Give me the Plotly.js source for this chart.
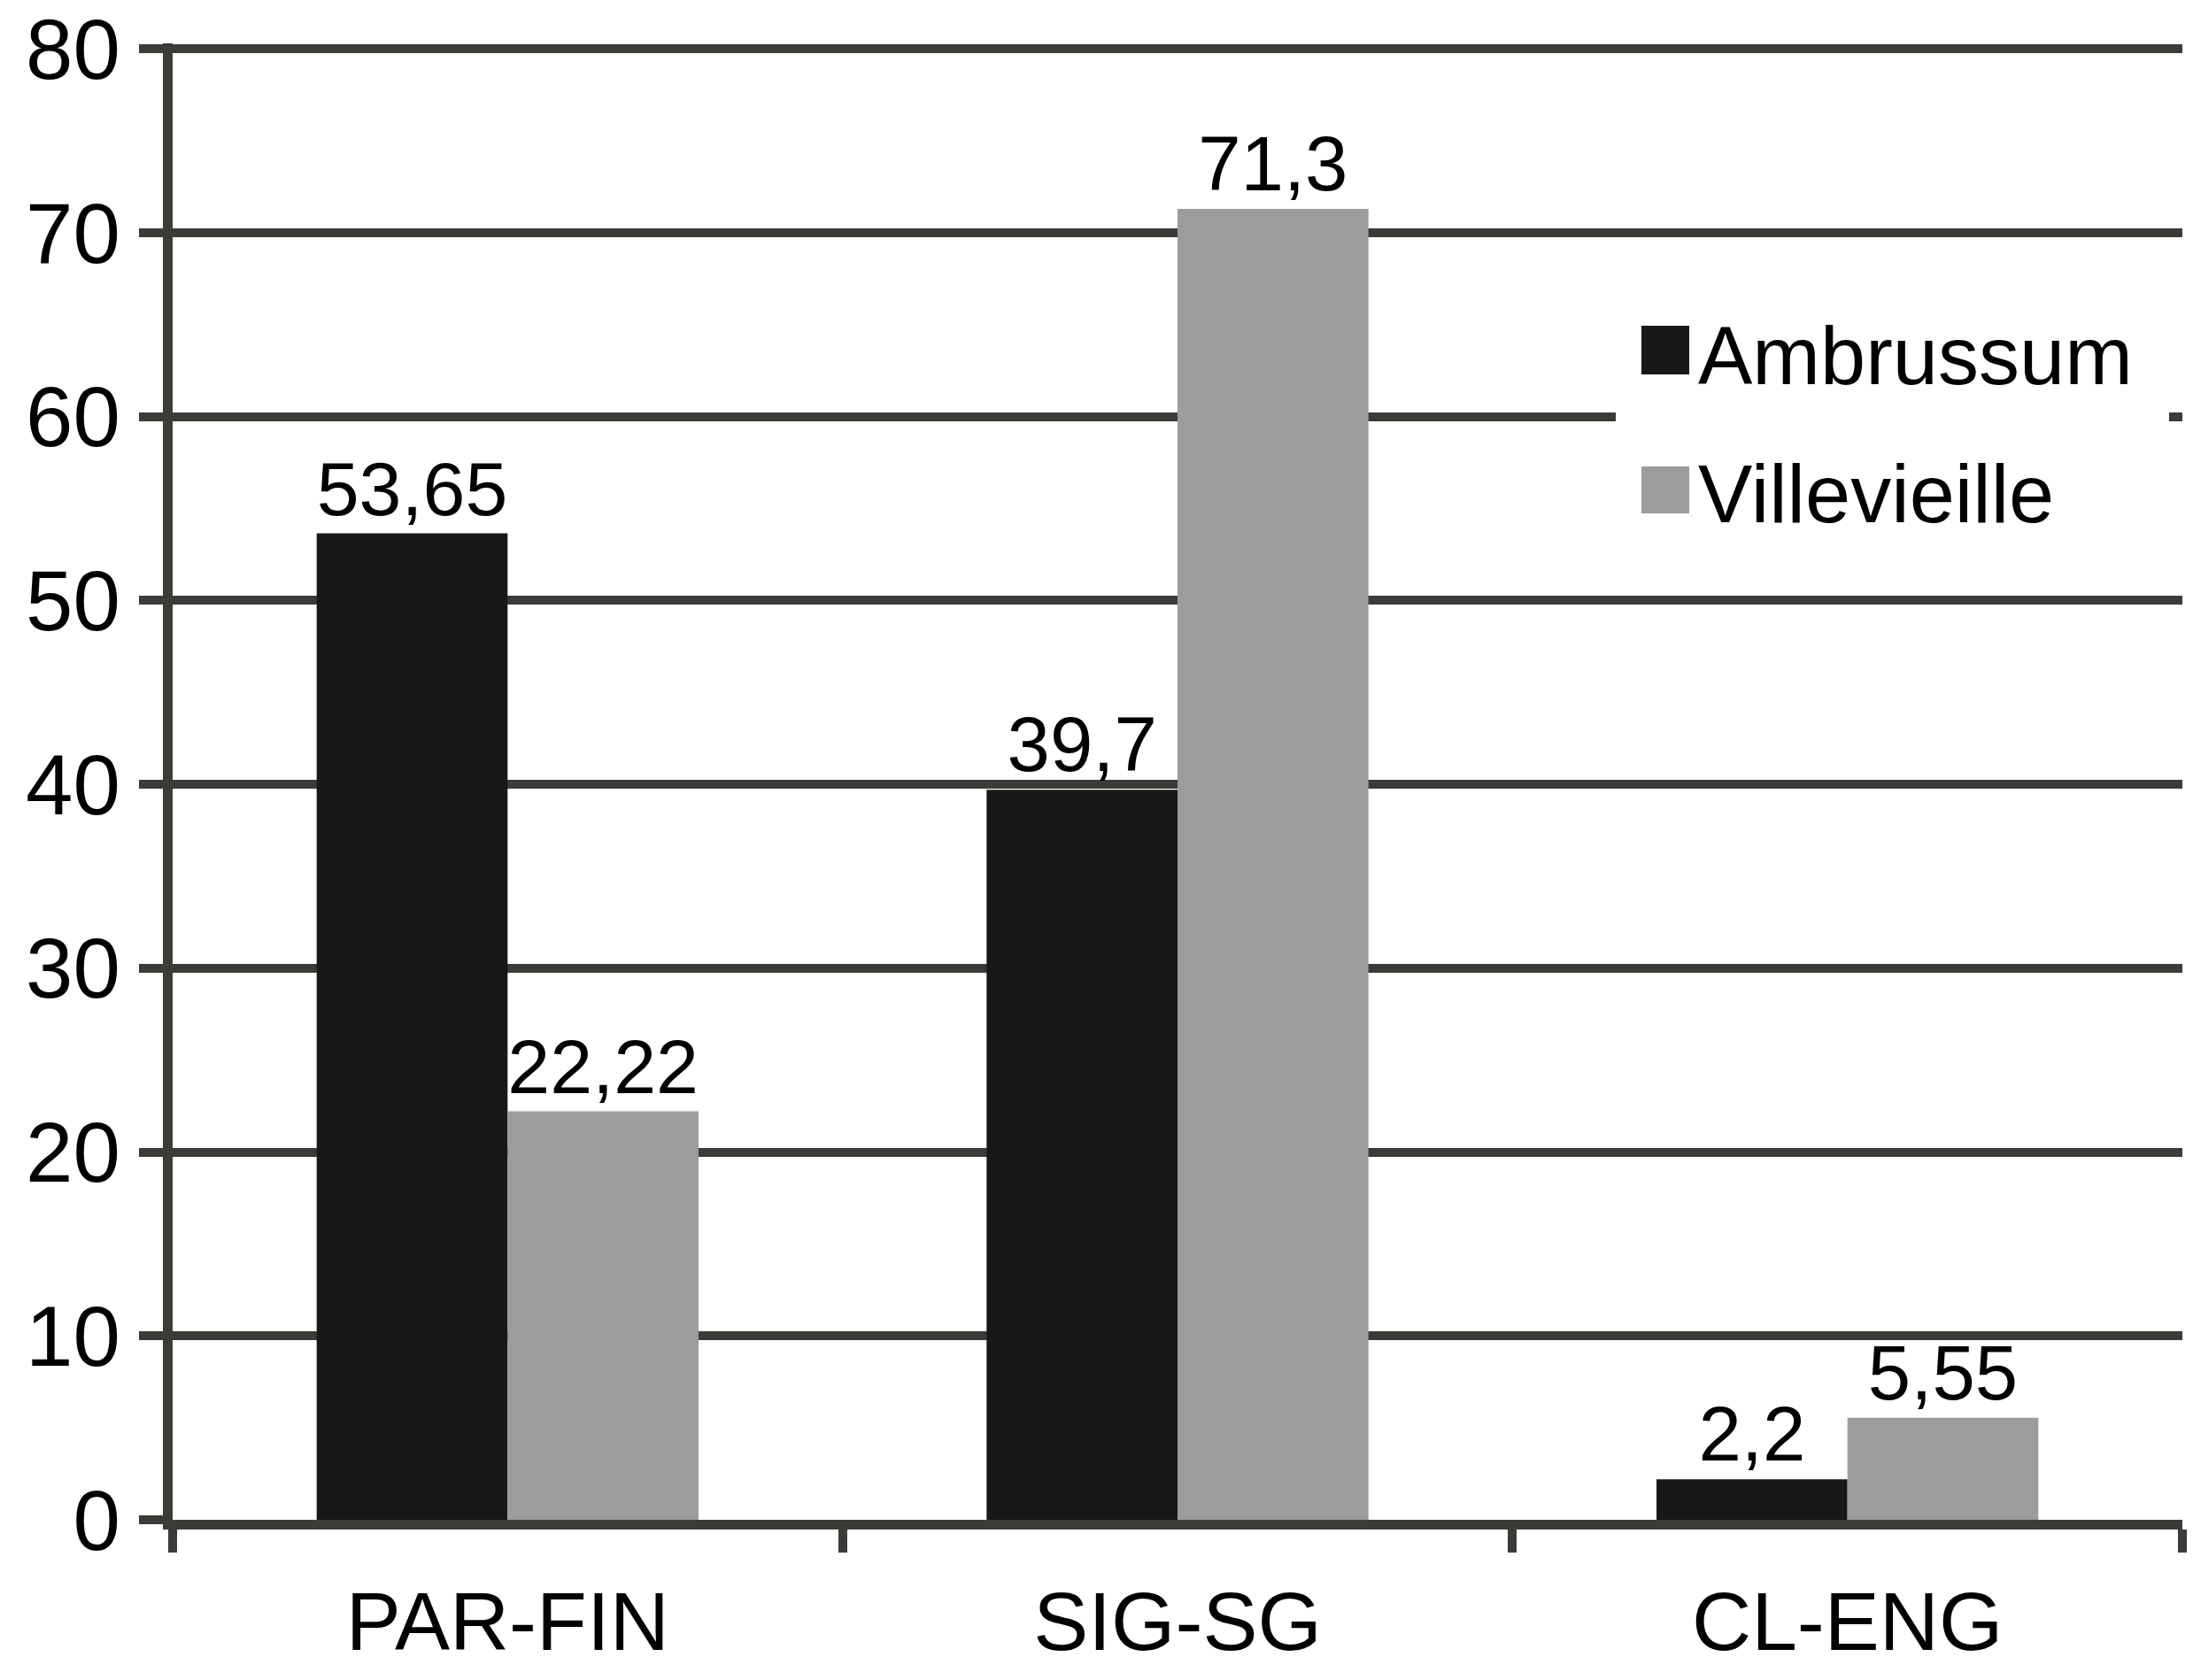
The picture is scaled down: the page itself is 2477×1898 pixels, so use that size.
<!DOCTYPE html>
<html>
<head>
<meta charset="utf-8">
<script src="https://cdn.plot.ly/plotly-3.0.1.min.js"></script>
<style>html,body{margin:0;padding:0;background:#fff;}#chart{width:2477px;height:1898px;}</style>
</head>
<body>
<div id="chart"></div>
<script>
const categories = ['PAR-FIN', 'SIG-SG', 'CL-ENG'];
const seriesNames = ['Ambrussum', 'Villevieille'];
const ambrussum = [53.65, 39.7, 2.2];
const villevieille = [22.22, 71.3, 5.55];
const yTicks = [0, 10, 20, 30, 40, 50, 60, 70, 80];

const FONT = 'Liberation Sans, Arial, sans-serif';
const colors = ['#171916', '#9c9c9c'];
const lineColor = '#3b3b37';
const fmt = v => String(v).replace('.', ',');

const W = 2477, H = 1898;
const margin = {l: 195, r: 12, t: 49, b: 181};
const pw = W - margin.l - margin.r, ph = H - margin.t - margin.b;
const px = x => (x - margin.l) / pw;
const py = y => (H - margin.b - y) / ph;

const traces = [ambrussum, villevieille].map((vals, i) => ({
  type: 'bar',
  name: seriesNames[i],
  x: categories,
  y: vals,
  text: vals.map(fmt),
  textposition: 'outside',
  cliponaxis: false,
  textfont: {family: FONT, size: 87, color: '#000'},
  marker: {color: colors[i], line: {width: 0}},
  showlegend: false,
  hoverinfo: 'skip'
}));

// custom legend (large squares like the original)
const legendShapes = [
  {type: 'rect', xref: 'paper', yref: 'paper', x0: px(1825), x1: px(2450), y0: py(640), y1: py(320),
   fillcolor: '#ffffff', line: {width: 0}, layer: 'above'},
  {type: 'rect', xref: 'paper', yref: 'paper', x0: px(1854), x1: px(1908), y0: py(423), y1: py(368),
   fillcolor: colors[0], line: {width: 0}, layer: 'above'},
  {type: 'rect', xref: 'paper', yref: 'paper', x0: px(1854), x1: px(1908), y0: py(580), y1: py(527),
   fillcolor: colors[1], line: {width: 0}, layer: 'above'}
];
const legendAnn = seriesNames.map((n, i) => ({
  xref: 'paper', yref: 'paper', x: px(1916), y: py(i === 0 ? 402 : 558),
  xanchor: 'left', yanchor: 'middle', showarrow: false, text: n,
  font: {family: FONT, size: 92, color: '#000'}
}));

const layout = {
  width: W, height: H,
  margin: margin,
  paper_bgcolor: '#fff', plot_bgcolor: '#fff',
  font: {family: FONT, color: '#000'},
  barmode: 'group',
  bargap: 0.43,
  bargroupgap: 0,
  separators: ', ',
  showlegend: false,
  xaxis: {
    type: 'category',
    showgrid: false,
    showline: true, linewidth: 11, linecolor: lineColor,
    ticks: 'outside', tickson: 'boundaries', ticklen: 26, tickwidth: 10, tickcolor: lineColor,
    ticklabelstandoff: 24,
    tickfont: {family: FONT, size: 93, color: '#000'},
    zeroline: false
  },
  yaxis: {
    range: [0, 80.3],
    tickvals: yTicks,
    ticktext: yTicks.map(String),
    showgrid: true, gridcolor: lineColor, gridwidth: 10,
    showline: true, linewidth: 11, linecolor: lineColor,
    ticks: 'outside', ticklen: 27, tickwidth: 10, tickcolor: lineColor,
    ticklabelstandoff: 2,
    tickfont: {family: FONT, size: 96, color: '#000'},
    zeroline: false
  },
  shapes: legendShapes,
  annotations: legendAnn
};

Plotly.newPlot('chart', traces, layout, {displayModeBar: false, staticPlot: true});
</script>
</body>
</html>
